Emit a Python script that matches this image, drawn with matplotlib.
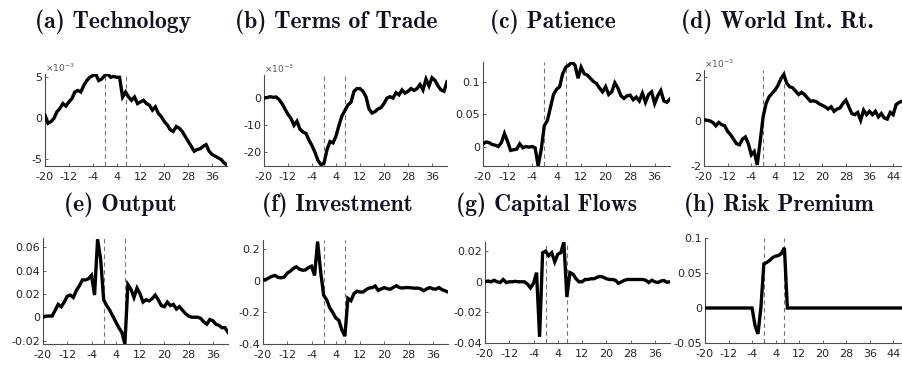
import numpy as np
import matplotlib
matplotlib.use("Agg")
import matplotlib.pyplot as plt

plt.rcParams["axes.unicode_minus"] = False
plt.rcParams["font.family"] = ["DejaVu Sans"]

# horizons (quarters around the event)
T_SHORT = list(range(-20, 42))
T_LONG = list(range(-20, 49))

# (a) technology, x1e-3
technology = [0.4, -0.6, -0.4, 0.0, 0.8, 1.2, 1.8, 1.5, 2.0, 2.4,
              3.2, 3.4, 3.2, 4.0, 4.6, 5.0, 5.2, 5.4, 4.6, 4.8,
              5.2, 5.4, 5.0, 5.1, 5.0, 5.0, 2.6, 3.2, 2.6, 2.2,
              2.6, 1.8, 2.0, 2.2, 1.8, 1.6, 1.0, 1.4, 0.6, 0.2,
              -0.4, -0.8, -1.4, -1.6, -1.0, -1.2, -1.6, -2.2, -2.8, -3.4,
              -4.0, -3.8, -3.7, -3.4, -3.2, -4.0, -4.4, -4.6, -4.8, -5.0,
              -5.4, -5.7]

# (b) terms of trade, x1e-3
terms_of_trade = [0.0, 0.2, 0.5, 0.3, 0.4, -0.5, -2.0, -4.0, -6.0, -7.5,
                  -10.0, -8.5, -11.5, -12.5, -13.0, -15.5, -17.5, -20.0, -23.0, -24.5,
                  -24.0, -19.0, -16.0, -16.5, -14.0, -10.0, -6.5, -4.5, -2.5, -1.5,
                  2.5, 3.5, 3.5, 2.5, 0.5, -4.0, -5.5, -5.0, -4.0, -3.5,
                  -2.0, 0.0, 0.5, 0.0, 2.0, 1.2, 3.0, 1.8, 2.5, 3.5,
                  2.8, 3.5, 5.0, 3.0, 7.0, 4.5, 7.5, 6.5, 4.5, 3.0,
                  2.5, 6.0]

# (c) patience
patience = [0.004, 0.007, 0.006, 0.003, 0.002, 0.0, 0.006, 0.02, 0.008, -0.006,
            -0.005, -0.004, 0.004, -0.002, 0.0, -0.001, 0.0, -0.002, -0.03, -0.004,
            0.032, 0.04, 0.06, 0.08, 0.088, 0.092, 0.112, 0.122, 0.125, 0.13,
            0.125, 0.105, 0.122, 0.112, 0.11, 0.105, 0.1, 0.097, 0.09, 0.084,
            0.092, 0.08, 0.084, 0.098, 0.09, 0.078, 0.074, 0.078, 0.079, 0.072,
            0.076, 0.07, 0.082, 0.068, 0.08, 0.084, 0.066, 0.078, 0.086, 0.07,
            0.068, 0.073]

# (d) world interest rate, x1e-3
world_rate = [0.07, 0.05, 0.02, -0.05, -0.2, -0.05, -0.15, -0.2, -0.45, -0.6,
              -0.8, -1.0, -1.05, -0.8, -0.7, -1.0, -1.5, -1.35, -1.95, -0.9,
              0.2, 0.8, 1.1, 1.25, 1.4, 1.6, 1.9, 2.1, 1.7, 1.55,
              1.5, 1.35, 1.2, 1.3, 1.2, 1.05, 0.9, 0.92, 0.88, 0.78,
              0.72, 0.65, 0.55, 0.65, 0.45, 0.55, 0.6, 0.8, 0.95, 0.65,
              0.35, 0.3, 0.4, 0.05, 0.5, 0.3, 0.45, 0.3, 0.45, 0.2,
              0.35, 0.15, 0.1, 0.4, 0.3, 0.75, 0.85, 0.9, 0.95]

# (e) output
output = [0.0, 0.001, 0.001, 0.001, 0.006, 0.011, 0.009, 0.013, 0.018, 0.019,
          0.017, 0.023, 0.027, 0.032, 0.032, 0.033, 0.036, 0.019, 0.067, 0.05,
          0.015, 0.01, 0.006, 0.001, -0.004, -0.009, -0.013, -0.023, 0.028, 0.024,
          0.017, 0.025, 0.02, 0.013, 0.015, 0.014, 0.016, 0.019, 0.015, 0.01,
          0.009, 0.013, 0.01, 0.011, 0.007, 0.009, 0.006, 0.003, 0.001, 0.0,
          0.0, 0.0, -0.001, -0.004, -0.006, -0.002, -0.003, -0.006, -0.007, -0.009,
          -0.009, -0.013]

# (f) investment
investment = [0.006, 0.01, 0.02, 0.03, 0.035, 0.022, 0.02, 0.025, 0.05, 0.062,
              0.08, 0.09, 0.075, 0.068, 0.07, 0.085, 0.094, 0.035, 0.25, 0.06,
              -0.09, -0.12, -0.17, -0.2, -0.235, -0.25, -0.31, -0.35, -0.11, -0.125,
              -0.08, -0.065, -0.07, -0.07, -0.055, -0.045, -0.042, -0.032, -0.06, -0.05,
              -0.042, -0.05, -0.052, -0.04, -0.03, -0.042, -0.045, -0.042, -0.042, -0.044,
              -0.046, -0.045, -0.05, -0.062, -0.05, -0.042, -0.05, -0.052, -0.042, -0.055,
              -0.062, -0.07]

# (g) capital flows
capital_flows = [0.0, 0.0005, 0.0, 0.001, 0.0, -0.0005, 0.0015, -0.0005, 0.0, 0.0,
                 0.0003, 0.0, 0.0, 0.0, -0.0015, -0.004, -0.001, 0.006, -0.036, 0.019,
                 0.02, 0.017, 0.019, 0.013, 0.018, 0.019, 0.026, -0.01, 0.006, 0.005,
                 0.002, 0.0, 0.0, 0.0015, 0.0015, 0.002, 0.002, 0.003, 0.0035, 0.003,
                 0.002, 0.0015, 0.0015, 0.001, -0.001, 0.0, 0.001, 0.0015, 0.0015, 0.0015,
                 0.0015, 0.0015, 0.0015, 0.001, -0.0005, 0.001, 0.0, -0.0005, 0.0005, 0.0008,
                 -0.0003, 0.0]

# (h) risk premium
risk_premium = [0.0, 0.0, 0.0, 0.0, 0.0, 0.0, 0.0, 0.0, 0.0, 0.0,
                0.0, 0.0, 0.0, 0.0, 0.0, 0.0, 0.0, -0.025, -0.037, 0.0,
                0.063, 0.065, 0.068, 0.072, 0.074, 0.075, 0.078, 0.086, 0.0, 0.0,
                0.0, 0.0, 0.0, 0.0, 0.0, 0.0, 0.0, 0.0, 0.0, 0.0,
                0.0, 0.0, 0.0, 0.0, 0.0, 0.0, 0.0, 0.0, 0.0, 0.0,
                0.0, 0.0, 0.0, 0.0, 0.0, 0.0, 0.0, 0.0, 0.0, 0.0,
                0.0, 0.0, 0.0, 0.0, 0.0, 0.0, 0.0, 0.0, 0.0]

titles = ["(a) Technology", "(b) Terms of Trade", "(c) Patience", "(d) World Int. Rt.",
          "(e) Output", "(f) Investment", "(g) Capital Flows", "(h) Risk Premium"]

event_lines = [0, 7]
xticks = [-20, -12, -4, 4, 12, 20, 28, 36, 44]

yticks = [[-5, 0, 5], [-20, -10, 0], [0, 0.05, 0.1], [-2, 0, 2],
          [-0.02, 0, 0.02, 0.04, 0.06], [-0.4, -0.2, 0, 0.2],
          [-0.04, -0.02, 0, 0.02], [-0.05, 0, 0.05, 0.1]]
ytick_labels = [["-5", "0", "5"], ["-20", "-10", "0"], ["0", "0.05", "0.1"],
                ["-2", "0", "2"], ["-0.02", "0", "0.02", "0.04", "0.06"],
                ["-0.4", "-0.2", "0", "0.2"], ["-0.04", "-0.02", "0", "0.02"],
                ["-0.05", "0", "0.05", "0.1"]]

W, H = 903, 366


def px_axes(fig, left, right, top, bottom):
    return fig.add_axes([left / W, 1 - bottom / H, (right - left) / W, (bottom - top) / H])


def main():
    fig = plt.figure(figsize=(W / 100, H / 100), dpi=100)
    fig.patch.set_facecolor("white")

    # pixel boxes: left, right, top, bottom
    boxes = [(45, 227, 74, 166), (264, 447, 75, 166), (483, 670, 62, 166), (704, 905, 70, 166),
             (43, 228, 238, 344), (263, 448, 240, 344), (485, 670, 242, 343), (705, 905, 238, 343)]
    series = [technology, terms_of_trade, patience, world_rate,
              output, investment, capital_flows, risk_premium]
    ylims = [(-5.8, 5.4), (-25, 8.5), (-0.03, 0.13), (-2, 2.3),
             (-0.023, 0.068), (-0.4, 0.26), (-0.04, 0.026), (-0.05, 0.1)]
    scaled = [True, True, False, True, False, False, False, False]
    title_x = [113, 336, 553, 777, 120, 337, 547, 779]
    title_y = [22, 22, 22, 22, 205, 205, 205, 205]

    for i in range(8):
        ax = px_axes(fig, *boxes[i])
        y = series[i]
        t = T_LONG if len(y) == len(T_LONG) else T_SHORT
        for xv in event_lines:
            ax.axvline(xv, color="0.45", lw=0.8, ls=(0, (4, 3)), zorder=1)
        ax.plot(t, y, color="black", lw=2.4, solid_joinstyle="miter", zorder=3)
        ax.set_xlim(t[0], t[-1])
        ax.set_ylim(*ylims[i])

        ax.spines["top"].set_visible(False)
        ax.spines["right"].set_visible(False)
        for s in ["left", "bottom"]:
            ax.spines[s].set_color("0.3")
            ax.spines[s].set_linewidth(0.8)

        ax.set_xticks([v for v in xticks if v <= t[-1]])
        ax.set_xticklabels([str(v) for v in xticks if v <= t[-1]])
        ax.set_yticks(yticks[i])
        ax.set_yticklabels(ytick_labels[i])
        ax.tick_params(direction="in", length=2.5, width=0.6, color="0.3",
                       labelsize=8, labelcolor="0.15", pad=2)
        ax.tick_params(axis="x", pad=4)

        if scaled[i]:
            ax.text(0.0, 1.0, r"$\times10^{-3}$", transform=ax.transAxes,
                    ha="left", va="bottom", fontsize=6.5, color="0.35")

        fig.text(title_x[i] / W, 1 - title_y[i] / H, titles[i],
                 family=["cmb10", "DejaVu Serif"], fontsize=17,
                 ha="center", va="center", color="#111122")

    fig.savefig("out.png", dpi=100, facecolor="white")


if __name__ == "__main__":
    main()
